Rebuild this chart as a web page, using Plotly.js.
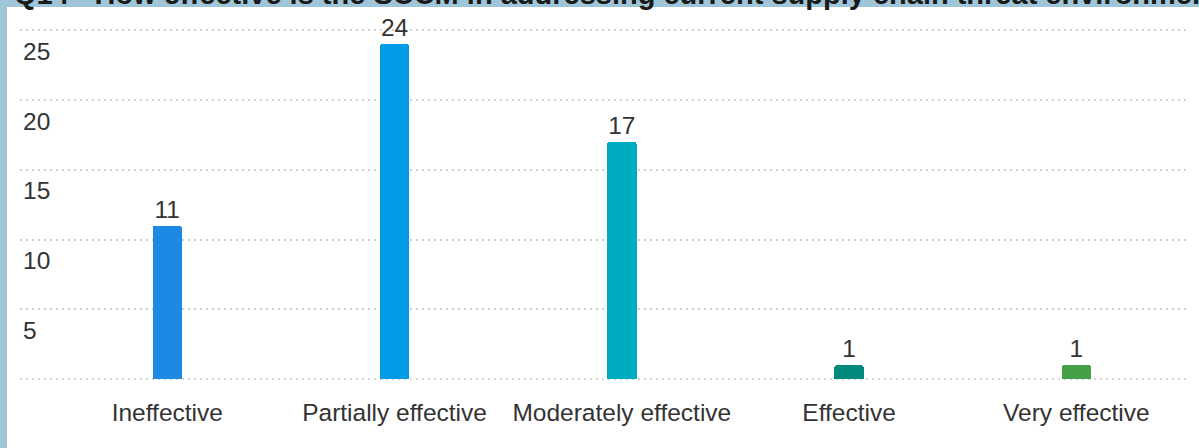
<!DOCTYPE html>
<html>
<head>
<meta charset="utf-8">
<script src="https://cdn.plot.ly/plotly-3.0.1.min.js"></script>
<style>
  html, body { margin: 0; padding: 0; background: #ffffff; }
  #chart { width: 1199px; height: 448px; }
</style>
</head>
<body>
<div id="chart"></div>
<script>
// Survey answers to Q14 and how many respondents picked each one
const categories = ["Ineffective", "Partially effective", "Moderately effective", "Effective", "Very effective"];
const counts = [11, 24, 17, 1, 1];
const barColors = ["#1e88e5", "#039be5", "#00acc1", "#00897b", "#43a047"];

const yTickVals = [0, 5, 10, 15, 20, 25];
const yTickText = ["", "5", "10", "15", "20", "25"];

const titleText = "Q14 - How effective is the SCCM in addressing current supply chain threat environment";

const W = 1199, H = 448;
const M = { l: 20, r: 9, t: 16, b: 68 };
const plotW = W - M.l - M.r;
const plotH = H - M.t - M.b;
// pixel -> paper helpers for the frame band and heading
const px = x => (x - M.l) / plotW;
const py = y => (H - M.b - y) / plotH;

const band = "#9fc6d8";
const font = "Liberation Sans, Arial, sans-serif";
const textColor = "#333333";
const gridColor = "#d0d0d0";
const gridDash = "2px,4px";

const trace = {
  type: "bar",
  x: categories,
  y: counts,
  width: 0.13,
  marker: { color: barColors, cornerradius: 3, line: { width: 0 } },
  text: counts.map(String),
  textposition: "outside",
  textfont: { family: font, size: 24.5, color: textColor },
  constraintext: "none",
  cliponaxis: false,
  hoverinfo: "x+y"
};

const layout = {
  width: W,
  height: H,
  margin: M,
  paper_bgcolor: "#ffffff",
  plot_bgcolor: "#ffffff",
  showlegend: false,
  bargap: 0,
  xaxis: {
    type: "category",
    range: [-0.648, 4.5],
    showgrid: false,
    zeroline: false,
    showline: false,
    ticks: "",
    ticklabelstandoff: 15,
    tickfont: { family: font, size: 24.5, color: textColor },
    fixedrange: true
  },
  yaxis: {
    range: [-0.06, 26.02],
    tickvals: yTickVals,
    ticktext: yTickText,
    ticklabelposition: "inside",
    ticklabelshift: 21,
    ticklabelstandoff: 0,
    tickfont: { family: font, size: 24.5, color: textColor },
    showgrid: true,
    gridcolor: gridColor,
    gridwidth: 2,
    griddash: gridDash,
    zeroline: false,
    showline: false,
    ticks: "",
    fixedrange: true
  },
  shapes: [
    { type: "rect", xref: "paper", yref: "paper", layer: "below",
      x0: px(0), x1: px(W + 5), y0: py(7), y1: py(-5),
      fillcolor: band, line: { width: 0 } },
    { type: "rect", xref: "paper", yref: "paper", layer: "below",
      x0: px(-5), x1: px(7), y0: py(H + 5), y1: py(-5),
      fillcolor: band, line: { width: 0 } },
    // dotted baseline at zero
    { type: "line", xref: "paper", yref: "y", layer: "below",
      x0: 0, x1: 1, y0: 0, y1: 0,
      line: { color: gridColor, width: 2, dash: gridDash } }
  ],
  annotations: [
    { text: "<b>" + titleText + "</b>", xref: "paper", yref: "paper",
      x: px(12), y: py(12), xanchor: "left", yanchor: "bottom",
      showarrow: false,
      font: { family: font, size: 29, color: "#1a1a1a" } }
  ]
};

Plotly.newPlot("chart", [trace], layout, { displayModeBar: false, staticPlot: true });
</script>
</body>
</html>
